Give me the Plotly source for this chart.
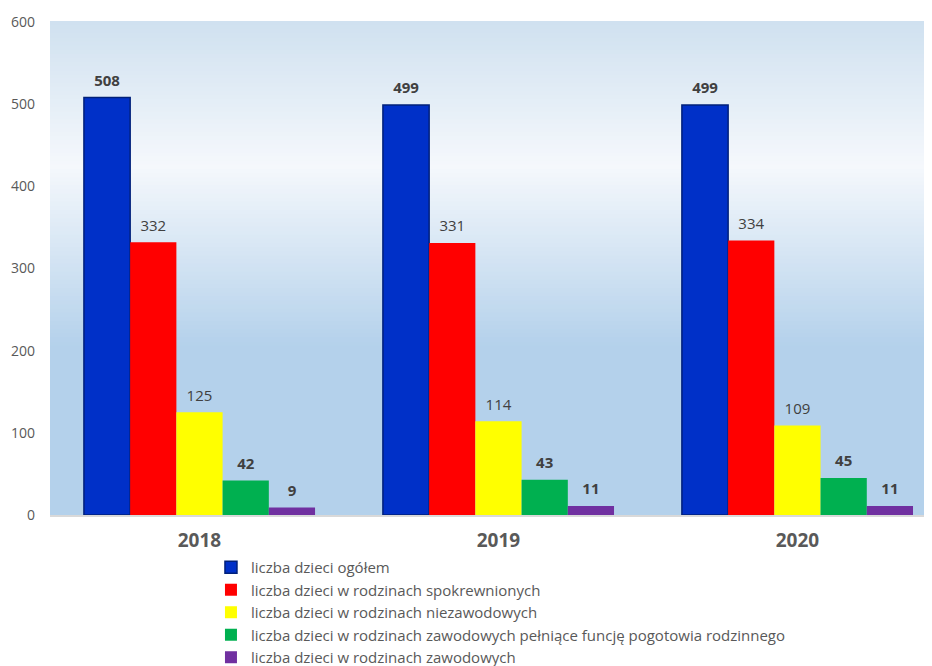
import plotly.graph_objects as go

years = ["2018", "2019", "2020"]
series_names = [
    "liczba dzieci ogółem",
    "liczba dzieci w rodzinach spokrewnionych",
    "liczba dzieci w rodzinach niezawodowych",
    "liczba dzieci w rodzinach zawodowych pełniące funcję pogotowia rodzinnego",
    "liczba dzieci w rodzinach zawodowych",
]
ogolem = [508, 499, 499]
spokrewnione = [332, 331, 334]
niezawodowe = [125, 114, 109]
pogotowie = [42, 43, 45]
zawodowe = [9, 11, 11]

series_values = [ogolem, spokrewnione, niezawodowe, pogotowie, zawodowe]
colors = ["#0030c8", "#ff0000", "#ffff00", "#00b050", "#7030a0"]
bold_labels = [True, False, False, True, True]
y_ticks = [0, 100, 200, 300, 400, 500, 600]

fig = go.Figure()
for i, (name, vals, col) in enumerate(zip(series_names, series_values, colors)):
    fig.add_trace(go.Bar(
        name=name, x=years, y=vals, offsetgroup=str(i),
        marker=dict(color=col, line=dict(color="#00207a" if i == 0 else col,
                                         width=1.5 if i == 0 else 0)),
        hoverinfo="y",
    ))

# value labels as text-only scatter, grouped like the bars, lifted a bit off the bar
for i, (vals, bold) in enumerate(zip(series_values, bold_labels)):
    fig.add_trace(go.Scatter(
        x=years, y=vals, offsetgroup=str(i), mode="markers+text",
        marker=dict(size=11, opacity=0),
        text=[f"<b>{v}</b>" if bold else str(v) for v in vals],
        textposition="top center",
        textfont=dict(size=15, color="#404040"),
        showlegend=False, hoverinfo="skip", cliponaxis=False,
    ))


# vertical gradient of the plot background, built from thin stripes
def mix(c1, c2, t):
    return "rgb(%d,%d,%d)" % tuple(round(a + (b - a) * t) for a, b in zip(c1, c2))


stops = [(0.0, (208, 225, 240)), (0.29, (245, 248, 252)), (0.655, (180, 209, 235)), (1.0, (180, 209, 235))]
n = 120
shapes = []
for k in range(n):
    f = k / n  # fraction from top
    for (p0, c0), (p1, c1) in zip(stops[:-1], stops[1:]):
        if p0 <= f <= p1:
            colr = mix(c0, c1, (f - p0) / (p1 - p0))
            break
    shapes.append(dict(type="rect", xref="paper", yref="paper", x0=0, x1=1,
                       y0=1 - (k + 1) / n, y1=1 - k / n + 0.002,
                       fillcolor=colr, line=dict(width=0), layer="below"))

fig.update_layout(
    width=924, height=658,
    margin=dict(l=42, r=0, t=14, b=151, autoexpand=False),
    paper_bgcolor="white",
    plot_bgcolor="rgba(0,0,0,0)",
    shapes=shapes,
    barmode="group",
    bargap=0.227,
    bargroupgap=0,
    scattermode="group",
    scattergap=0.227,
    font=dict(family="Open Sans, sans-serif", color="#595959"),
    showlegend=True,
    legend=dict(x=0.1825, y=-0.073, xanchor="left", yanchor="top",
                font=dict(size=15, color="#595959"), bgcolor="rgba(0,0,0,0)",
                tracegroupgap=0, itemwidth=30),
    xaxis=dict(range=[-0.5, 2.45], showline=True, linecolor="#d9d9d9", linewidth=1.5,
               tickfont=dict(size=19, color="#595959", weight="bold"), ticks="",
               ticklabelstandoff=7, automargin=False),
    yaxis=dict(range=[0, 600], tickvals=y_ticks, showgrid=False, zeroline=False,
               tickfont=dict(size=14, color="#595959"), ticklabelstandoff=14,
               automargin=False),
)

fig.write_html("out.html")
